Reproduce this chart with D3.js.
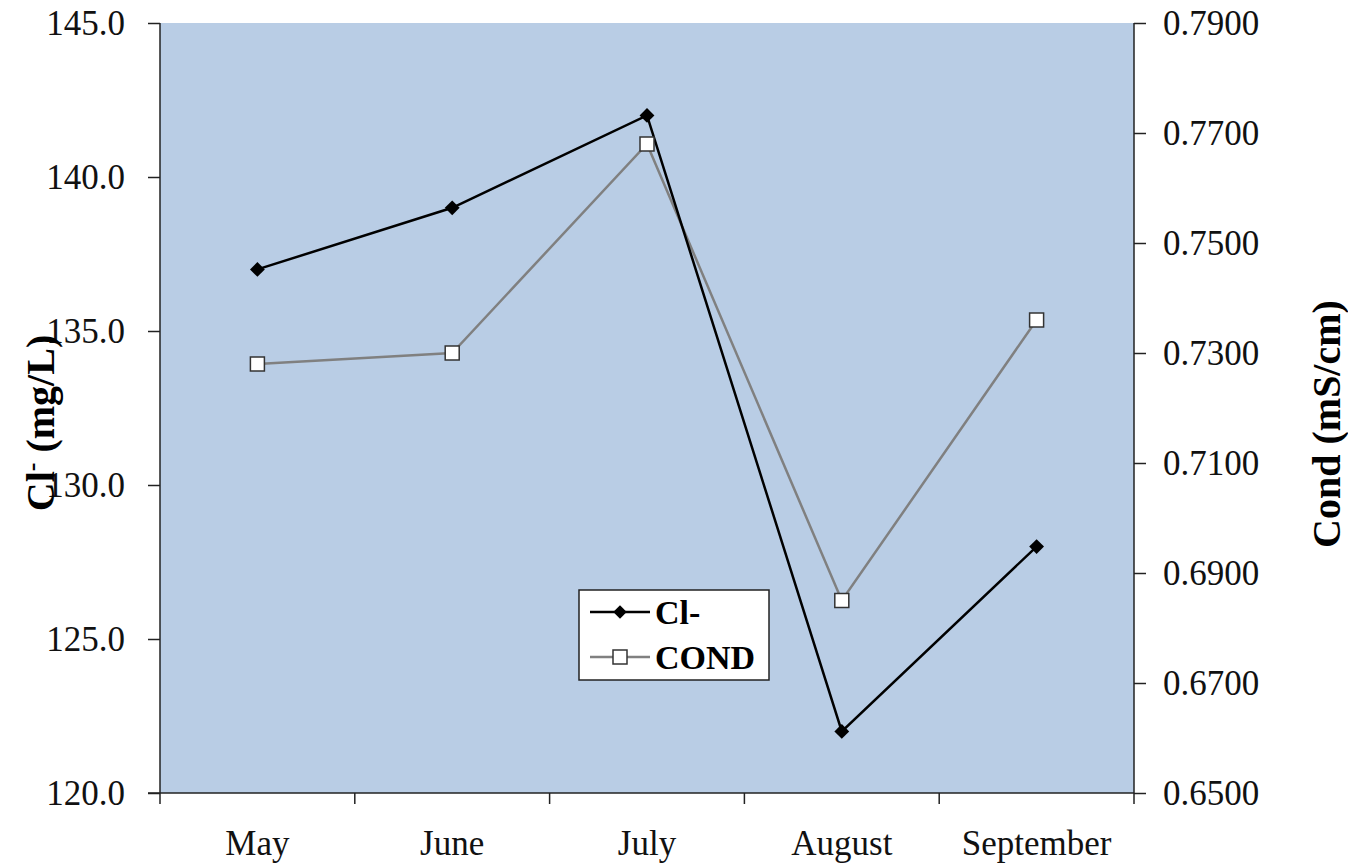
<!DOCTYPE html>
<html><head><meta charset="utf-8">
<script src="https://cdn.jsdelivr.net/npm/d3@7"></script>
<style>body{margin:0;background:#fff}svg{display:block}</style>
</head><body>
<svg id="c" width="1348" height="866"></svg>
<script>
const months = ["May","June","July","August","September"];
const clValues = [137.0, 139.0, 142.0, 122.0, 128.0];
const condValues = [0.7280, 0.7300, 0.7680, 0.6850, 0.7360];
const leftTicks = [120,125,130,135,140,145];
const rightTicks = [0.65,0.67,0.69,0.71,0.73,0.75,0.77,0.79];

const svg = d3.select("#c");
const L=160, R=1134, T=23, B=793;
const font = "'Liberation Serif','Times New Roman',serif";

const x = d3.scaleBand().domain(months).range([L,R]).padding(0);
const yL = d3.scaleLinear().domain([120,145]).range([B,T]);
const yR = d3.scaleLinear().domain([0.65,0.79]).range([B,T]);

svg.append("rect").attr("x",L).attr("y",T).attr("width",R-L).attr("height",B-T).attr("fill","#B9CDE5");

const gl = svg.append("g").attr("transform",`translate(${L},0)`)
  .call(d3.axisLeft(yL).tickValues(leftTicks).tickFormat(d3.format(".1f")).tickSize(12).tickPadding(23));
const gr = svg.append("g").attr("transform",`translate(${R},0)`)
  .call(d3.axisRight(yR).tickValues(rightTicks).tickFormat(d3.format(".4f")).tickSize(12).tickPadding(17));
const gx = svg.append("g").attr("transform",`translate(0,${B})`)
  .call(d3.axisBottom(x).tickSize(0).tickPadding(37));
// category boundary ticks
const bounds = months.map(m=>x(m)).concat([R]);
svg.append("g").selectAll("line").data(bounds).join("line")
  .attr("x1",d=>d).attr("x2",d=>d).attr("y1",B).attr("y2",B+11)
  .attr("stroke","#222").attr("stroke-width",1.5);

[gl,gr,gx].forEach(g=>{
  g.selectAll(".domain").attr("stroke","#222").attr("stroke-width",1.5);
  g.selectAll(".tick line").attr("stroke","#222").attr("stroke-width",1.5);
  g.selectAll("text").attr("font-family",font).attr("font-size",35).attr("fill","#111");
});
gl.select(".domain").attr("d",`M0,${T}V${B}`);
gr.select(".domain").attr("d",`M0,${T}V${B}`);
gx.select(".domain").attr("d",`M${L-12},0H${R}`);

const cx = m => x(m)+x.bandwidth()/2;

// COND line
const lineR = d3.line().x((d,i)=>cx(months[i])).y(d=>yR(d));
svg.append("path").attr("d",lineR(condValues)).attr("fill","none").attr("stroke","#808080").attr("stroke-width",2.5);
// Cl line
const lineL = d3.line().x((d,i)=>cx(months[i])).y(d=>yL(d));
svg.append("path").attr("d",lineL(clValues)).attr("fill","none").attr("stroke","#000").attr("stroke-width",2.5);

svg.append("g").selectAll("path").data(clValues).join("path")
  .attr("d",d3.symbol(d3.symbolSquare,110))
  .attr("transform",(d,i)=>`translate(${cx(months[i])},${yL(d)}) rotate(45)`)
  .attr("fill","#000");
svg.append("g").selectAll("rect").data(condValues).join("rect")
  .attr("x",(d,i)=>cx(months[i])-7).attr("y",d=>yR(d)-7)
  .attr("width",14).attr("height",14)
  .attr("fill","#fff").attr("stroke","#333").attr("stroke-width",1.5);

// axis titles
const lt = svg.append("text").attr("transform","translate(54,423) rotate(-90)")
  .attr("text-anchor","middle").attr("font-family",font).attr("font-weight","bold").attr("font-size",40);
lt.append("tspan").text("Cl");
lt.append("tspan").text("-").attr("dy",-14).attr("font-size",26);
lt.append("tspan").text(" (mg/L)").attr("dy",14);
svg.append("text").attr("transform","translate(1340,424) rotate(-90)")
  .attr("text-anchor","middle").attr("font-family",font).attr("font-weight","bold").attr("font-size",40)
  .text("Cond (mS/cm)");

// legend
const lg = svg.append("g");
lg.append("rect").attr("x",579).attr("y",590).attr("width",190).attr("height",90)
  .attr("fill","#fff").attr("stroke","#222").attr("stroke-width",1.5);
const legendItems = [{name:"Cl-",y:612,color:"#000"},{name:"COND",y:657,color:"#808080"}];
legendItems.forEach((it,k)=>{
  lg.append("line").attr("x1",590).attr("x2",650).attr("y1",it.y).attr("y2",it.y)
    .attr("stroke",it.color).attr("stroke-width",2.5);
  if(k===0){
    lg.append("path").attr("d",d3.symbol(d3.symbolSquare,90)).attr("transform",`translate(620,${it.y}) rotate(45)`).attr("fill","#000");
  } else {
    lg.append("rect").attr("x",613).attr("y",it.y-7).attr("width",14).attr("height",14)
      .attr("fill","#fff").attr("stroke","#333").attr("stroke-width",1.5);
  }
  lg.append("text").attr("x",655).attr("y",it.y+12).attr("font-family",font).attr("font-weight","bold")
    .attr("font-size",34).text(it.name);
});
</script>
</body></html>
